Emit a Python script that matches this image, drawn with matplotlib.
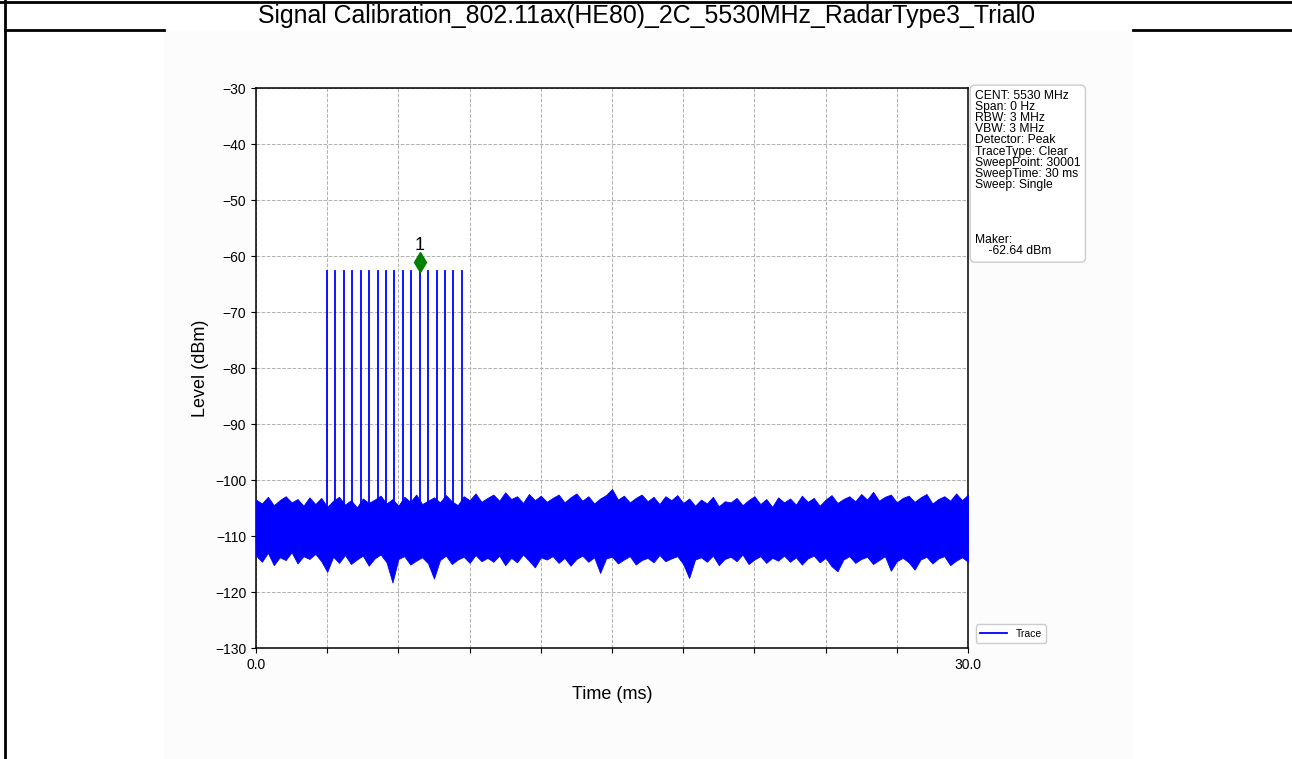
import numpy as np
import matplotlib
matplotlib.use("Agg")
import matplotlib.pyplot as plt
from matplotlib.patches import Rectangle
from matplotlib.lines import Line2D

plt.rcParams['font.family'] = ['Liberation Sans', 'DejaVu Sans']

title = 'Signal Calibration_802.11ax(HE80)_2C_5530MHz_RadarType3_Trial0'

# radar pulse positions (ms) and peak level (dBm)
pulse_times = [2.98, 3.34, 3.69, 4.05, 4.41, 4.76, 5.12, 5.47, 5.83,
               6.19, 6.54, 6.90, 7.26, 7.61, 7.97, 8.32, 8.68]
pulse_level = -62.64
pulse_base = -108.0

marker_time = 6.90
marker_level = -61.1
marker_label = '1'

# noise floor envelope, read every 0.25 ms across the 30 ms sweep
noise_hi = [-103.5, -104.2, -103.0, -104.5, -103.6, -102.9, -104.0, -103.4, -104.6, -103.1,
            -104.3, -103.2, -104.8, -103.7, -103.0, -104.4, -103.6, -104.9, -103.3, -104.1,
            -103.5, -102.8, -104.2, -103.4, -104.6, -103.0, -103.9, -102.6, -104.3, -103.7,
            -103.1, -104.0, -102.7, -103.8, -104.5, -102.9, -103.6, -102.4, -103.9, -103.2,
            -102.6, -103.7, -102.2, -103.4, -102.9, -104.1, -102.5, -103.6, -102.8, -103.9,
            -103.2, -102.6, -104.0, -103.1, -102.4, -103.7, -102.9, -104.2, -103.3, -102.7,
            -101.6, -103.5, -102.8, -104.0, -103.2, -102.6, -103.8, -103.0, -104.3, -102.9,
            -103.6, -102.7, -104.1, -103.3, -104.6, -103.5, -104.2, -103.0, -104.7, -103.8,
            -104.0, -103.2, -104.5, -103.6, -102.9, -104.3, -103.4, -104.8, -103.1, -104.0,
            -103.3, -104.4, -102.8, -103.9, -103.2, -104.6, -103.5, -102.7, -104.1, -103.4,
            -102.9, -103.8, -102.5, -103.5, -102.1, -103.7, -103.0, -102.6, -104.0, -103.2,
            -102.8, -103.9, -103.1, -102.5, -104.2, -103.4, -102.9, -103.7, -102.4, -103.6,
            -102.6]
noise_lo = [-113.5, -114.6, -113.0, -115.2, -113.8, -114.3, -112.9, -114.9, -113.6, -114.1,
            -113.2, -114.5, -116.4, -113.7, -114.8, -113.4, -115.0, -114.2, -113.5, -115.3,
            -114.0, -113.3, -114.7, -118.3, -114.1, -113.6, -115.1, -114.4, -113.8, -114.9,
            -117.6, -114.3, -113.5, -115.0, -114.2, -113.7, -114.8, -113.4, -114.5, -113.9,
            -114.6, -113.5, -115.2, -113.9, -114.7, -113.3, -114.4, -115.6, -113.8, -114.2,
            -113.6, -114.8, -113.9, -115.3, -114.1, -113.5, -114.6, -113.8, -116.6, -114.0,
            -113.7, -114.9, -114.2, -113.6, -115.1, -114.3, -113.9, -114.7, -113.4, -114.5,
            -114.0, -113.6, -115.0, -117.5, -114.2, -113.8, -114.6, -113.5, -115.2, -114.1,
            -113.7, -114.5, -113.3, -115.0, -114.2, -113.6, -114.8, -113.9, -114.4, -113.5,
            -114.6, -113.8, -115.1, -114.0, -113.5, -114.7, -113.9, -115.4, -116.3, -114.2,
            -113.6, -114.8, -114.1, -113.7, -115.0, -114.3, -113.6, -116.2, -114.5, -113.9,
            -114.7, -116.0, -114.2, -113.7, -114.9, -114.0, -113.6, -115.2, -114.4, -113.8,
            -114.6]
sweep_time = 30.0

info_lines = ['CENT: 5530 MHz', 'Span: 0 Hz', 'RBW: 3 MHz', 'VBW: 3 MHz',
              'Detector: Peak', 'TraceType: Clear', 'SweepPoint: 30001',
              'SweepTime: 30 ms', 'Sweep: Single', '', '', '', '',
              'Maker:', '    -62.64 dBm']

W, H = 1292, 759
fig = plt.figure(figsize=(W / 100, H / 100), dpi=100)
fig.patch.set_facecolor('white')

# embedded chart image area (slightly off-white) and document table lines
fig.patches.append(Rectangle((164 / W, 0), (1133 - 164) / W, 1 - 31 / H,
                             transform=fig.transFigure, fc='#fcfcfc', ec='none', zorder=-5))
fig.lines.append(Line2D([0, 1], [1 - 1.5 / H, 1 - 1.5 / H], transform=fig.transFigure, color='black', lw=2))
fig.lines.append(Line2D([5 / W, 5 / W], [0, 1], transform=fig.transFigure, color='black', lw=2))
fig.lines.append(Line2D([5 / W, 164 / W], [1 - 30 / H, 1 - 30 / H], transform=fig.transFigure, color='black', lw=2))
fig.lines.append(Line2D([1133 / W, 1], [1 - 30 / H, 1 - 30 / H], transform=fig.transFigure, color='black', lw=2))
fig.text(646 / W, 1 - 16 / H, title, ha='center', va='center', fontsize=17.9)

ax = fig.add_axes([256 / W, 1 - 648 / H, (968 - 256) / W, (648 - 88) / H])
ax.set_facecolor('white')

t_noise = np.linspace(0, sweep_time, len(noise_hi))
ax.fill_between(t_noise, noise_lo, noise_hi, color='blue', lw=0.6, zorder=3)

xs, ys = [], []
for t in pulse_times:
    xs += [t, t, np.nan]
    ys += [pulse_base, pulse_level, np.nan]
ax.plot(xs, ys, color='blue', lw=1.3, label='Trace', zorder=3)

ax.plot([marker_time], [marker_level], marker='d', color='green', markersize=10, zorder=4)
ax.text(marker_time, marker_level + 1.5, marker_label, ha='center', va='bottom', fontsize=13)

ax.set_xlim(0, sweep_time)
ax.set_ylim(-130, -30)
ax.set_xticks(np.arange(0, 31, 3))
ax.set_xticklabels(['0.0'] + [''] * 9 + ['30.0'])
ax.set_yticks(np.arange(-130, -29, 10))
ax.tick_params(labelsize=10)
ax.grid(True, ls='--', color='#b0b0b0', lw=0.7)
for s in ax.spines.values():
    s.set_linewidth(1.1)
ax.set_xlabel('Time (ms)', fontsize=13, labelpad=10)
ax.set_ylabel('Level (dBm)', fontsize=13)

fig.text(975 / W, 1 - 90 / H, '\n'.join(info_lines), ha='left', va='top', fontsize=8.7,
         linespacing=0.9,
         bbox=dict(boxstyle='round,pad=0.4', fc='white', ec='#cccccc'))

ax.legend(loc='lower left', bbox_to_anchor=(1.004, 0), fontsize=7.5, handlelength=2.6,
          framealpha=1, edgecolor='#cccccc')

fig.savefig('out.png', dpi=100)
